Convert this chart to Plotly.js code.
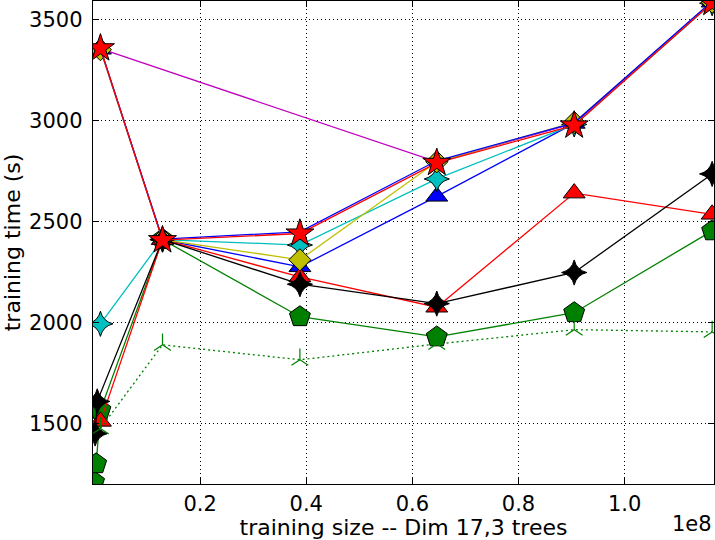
<!DOCTYPE html>
<html>
<head>
<meta charset="utf-8">
<script src="https://cdn.plot.ly/plotly-3.0.1.min.js"></script>
<style>html,body{margin:0;padding:0;background:#fff;}#chart{width:715px;height:540px;}</style>
</head>
<body>
<div id="chart"></div>
<script>
// training sizes (x) shared by most series
const xMain = [1.2e6, 1.29e7, 3.88e7, 6.46e7, 9.05e7, 1.165e8];
const xGreenPent = [0, 4e5, 1.2e6, 1.29e7, 3.88e7, 6.46e7, 9.05e7, 1.165e8];
const xBlack = [2e5, 6e5, 1.29e7, 3.88e7, 6.46e7, 9.05e7, 1.165e8];
const xMagenta = [1.2e6, 6.46e7, 9.05e7, 1.165e8];

// training times (s)
const yBlueTri    = [3352, 2410, 2275, 2624, 2985, 3585];
const yGreenPent  = [1210, 1300, 1566, 2410, 2028, 1928, 2048, 2453];
const yRedTri     = [1510, 2410, 2225, 2075, 2640, 2535];
const yCyan       = [1993, 2410, 2383, 2710, 2980, 3580];
const yMagenta    = [3355, 2795, 2985, 3585];
const yYellow     = [3350, 2410, 2310, 2795, 2990, 3585];
const yBlack      = [1450, 1609, 2410, 2189, 2093, 2247, 2735];
const yBlue2      = [3355, 2412, 2448, 2800, 2988, 3590];
const yGreenDot   = [1475, 1889, 1815, 1893, 1964, 1953];
const yRedStar    = [3357, 2407, 2440, 2790, 2975, 3582];

const xTickVals = [2e7, 4e7, 6e7, 8e7, 1e8];
const xTickText = ['0.2', '0.4', '0.6', '0.8', '1.0'];
const yTickVals = [1500, 2000, 2500, 3000, 3500];

function tr(x, y, color, symbol, size, opts) {
  opts = opts || {};
  return {
    x: x, y: y, type: 'scatter', mode: 'lines+markers',
    line: {color: color, width: 1.3, dash: opts.dash || 'solid'},
    marker: {symbol: symbol, size: size, color: opts.mcolor || color,
             line: {color: opts.lcolor || 'black', width: opts.lw || 1}},
    showlegend: false, hoverinfo: 'skip'
  };
}

const data = [
  tr(xMain, yBlueTri, '#0000ff', 'triangle-up', 19),
  tr(xGreenPent, yGreenPent, '#008000', 'pentagon', 22),
  tr(xMain, yRedTri, '#ff0000', 'triangle-up', 19),
  tr(xMain, yCyan, '#00bfbf', 'star-diamond', 18),
  tr(xMagenta, yMagenta, '#bf00bf', 'circle', 9),
  tr(xMain, yYellow, '#bfbf00', 'diamond', 17),
  tr(xBlack, yBlack, '#000000', 'star-diamond', 18),
  tr(xMain, yBlue2, '#0000ff', 'circle', 9),
  tr(xMain, yGreenDot, '#008000', 'y-up', 14, {dash: '2px,3px', lcolor: '#008000', lw: 1.2}),
  tr(xMain, yRedStar, '#ff0000', 'star', 21)
];

const axisFont = {family: 'DejaVu Sans', size: 22, color: 'black'};
const tickFont = {family: 'DejaVu Sans', size: 21, color: 'black'};

const layout = {
  width: 715, height: 540,
  margin: {l: 93, r: 1, t: 1, b: 56},
  paper_bgcolor: 'white', plot_bgcolor: 'white',
  xaxis: {
    range: [-2e5, 1.1685e8],
    tickvals: xTickVals, ticktext: xTickText,
    tickfont: tickFont,
    ticks: 'inside', ticklen: 6, tickcolor: 'black', tickwidth: 1,
    showline: true, linecolor: 'black', linewidth: 1.3, mirror: 'allticks',
    showgrid: true, gridcolor: 'black', gridwidth: 1, griddash: '1px,3px',
    zeroline: false,
    title: {text: 'training size -- Dim 17,3 trees', font: axisFont, standoff: 4}
  },
  yaxis: {
    range: [1200, 3591],
    tickvals: yTickVals,
    tickfont: tickFont,
    ticks: 'inside', ticklen: 6, tickcolor: 'black', tickwidth: 1,
    showline: true, linecolor: 'black', linewidth: 1.3, mirror: 'allticks',
    showgrid: true, gridcolor: 'black', gridwidth: 1, griddash: '1px,3px',
    zeroline: false,
    ticklabelstandoff: 5,
    title: {text: 'training time (s)', font: axisFont, standoff: 4}
  },
  annotations: [{
    text: '1e8', xref: 'paper', yref: 'paper', x: 1, y: 0,
    xanchor: 'right', yanchor: 'top', yshift: -26, xshift: 0,
    showarrow: false, font: {family: 'DejaVu Sans', size: 21, color: 'black'}
  }],
  font: {family: 'DejaVu Sans', color: 'black'}
};

Plotly.newPlot('chart', data, layout, {staticPlot: true, displayModeBar: false});
</script>
</body>
</html>
